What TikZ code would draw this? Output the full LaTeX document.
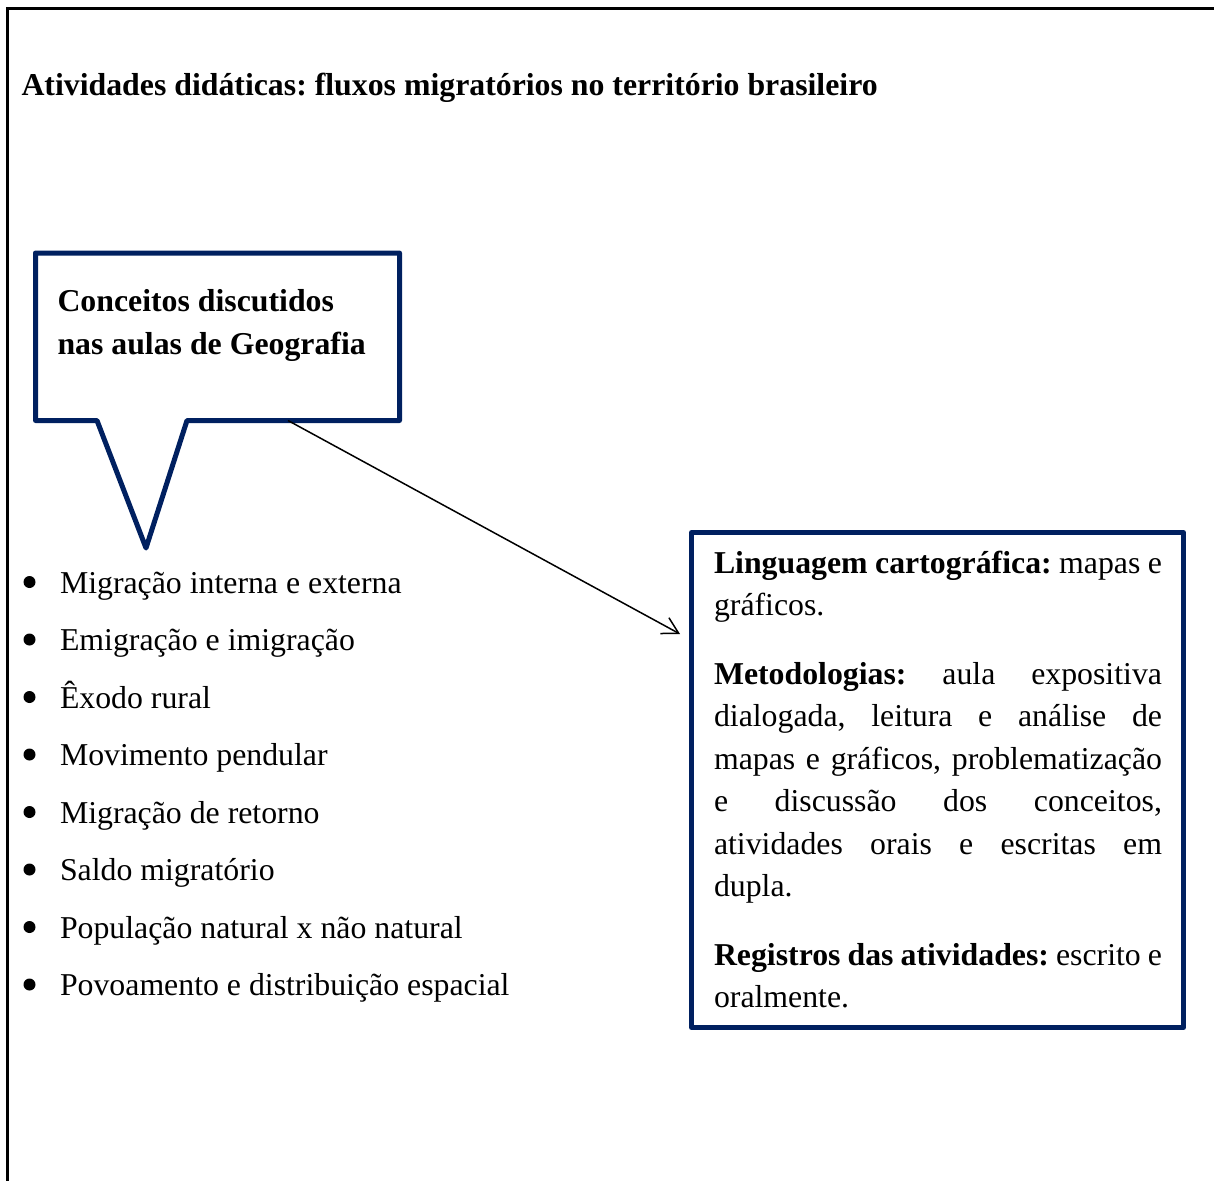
\documentclass[tikz,border=0pt]{standalone}
\usepackage{fontspec}
\setmainfont{Liberation Serif}
\usetikzlibrary{arrows.meta}
\definecolor{navy}{RGB}{0,32,96}
\newcommand\myjl[1]{\hbox to 448pt{#1}}
\newcommand\mynl[1]{\hbox{#1}}
\frenchspacing
\begin{document}
\begin{tikzpicture}[x=1pt,y=-1pt,
  txt/.style={inner sep=0pt, outer sep=0pt, anchor=base west, font=\fontsize{31.8pt}{42.4pt}\selectfont\frenchspacing},
  boxline/.style={draw=navy, line width=5pt, line join=round},
  frame/.style={draw=black, line width=3pt},
  conn/.style={draw=black, line width=1.5pt, -{Straight Barb[length=16pt,width=18pt,line width=1.5pt]}},
  bulletdot/.style={fill=black}]
\useasboundingbox (0,0) rectangle (1214,1181);
% outer frame (only top and left edges visible)
\draw[frame] (1214,8.8) -- (7.5,8.8) -- (7.5,1181);
% title
\node[txt, font=\fontsize{31.8pt}{42.4pt}\selectfont\bfseries\frenchspacing] (title) at (21.5,95)
  {Atividades didáticas: fluxos migratórios no território brasileiro};
% callout
\coordinate (c1) at (35.5,253);
\coordinate (c2) at (399.5,253);
\coordinate (c3) at (399.5,420.5);
\coordinate (c4) at (187,420.5);
\coordinate (ctip) at (146,548);
\coordinate (c5) at (97,420.5);
\coordinate (c6) at (35.5,420.5);
\draw[boxline] (c1) -- (c2) -- (c3) -- (c4) -- (ctip) -- (c5) -- (c6) -- cycle;
\node[txt, font=\fontsize{31.8pt}{42.4pt}\selectfont\bfseries\frenchspacing] (ctitle) at (57.5,311)
  {\vtop{\baselineskip=43pt \mynl{Conceitos discutidos}\mynl{nas aulas de Geografia}}};
% bullet list
\foreach \t [count=\i from 0] in {Migração interna e externa, Emigração e imigração, Êxodo rural, Movimento pendular, Migração de retorno, Saldo migratório, População natural x não natural, Povoamento e distribuição espacial}{
  \fill[bulletdot] (29.5,{582+57.5*\i}) circle (6);
  \node[txt] (b\i) at (60,{593+57.5*\i}) {\t};
}
% right box
\node[boxline, anchor=north west, inner sep=0pt, outer sep=0pt, minimum width=492pt, minimum height=495pt] (rbox) at (691.5,532.5) {};
\node[txt] (p1) at (714,573)
  {\vtop{\baselineskip=42.4pt \myjl{\textbf{Linguagem cartográfica:} mapas e}\mynl{gráficos.}}};
\node[txt] (p2) at (714,684.4)
  {\vtop{\baselineskip=42.4pt
   \myjl{\textbf{Metodologias:} aula expositiva}
   \myjl{dialogada, leitura e análise de}
   \myjl{mapas e gráficos, problematização}
   \myjl{e discussão dos conceitos,}
   \myjl{atividades orais e escritas em}
   \mynl{dupla.}}};
\node[txt] (p3) at (714,965.4)
  {\vtop{\baselineskip=42.4pt \myjl{\textbf{Registros das atividades:} escrito e}\mynl{oralmente.}}};
% connector
\coordinate (astart) at (288,420.5);
\coordinate (aend) at (680,634);
\draw[conn] (astart) -- (aend);
\end{tikzpicture}
\end{document}
